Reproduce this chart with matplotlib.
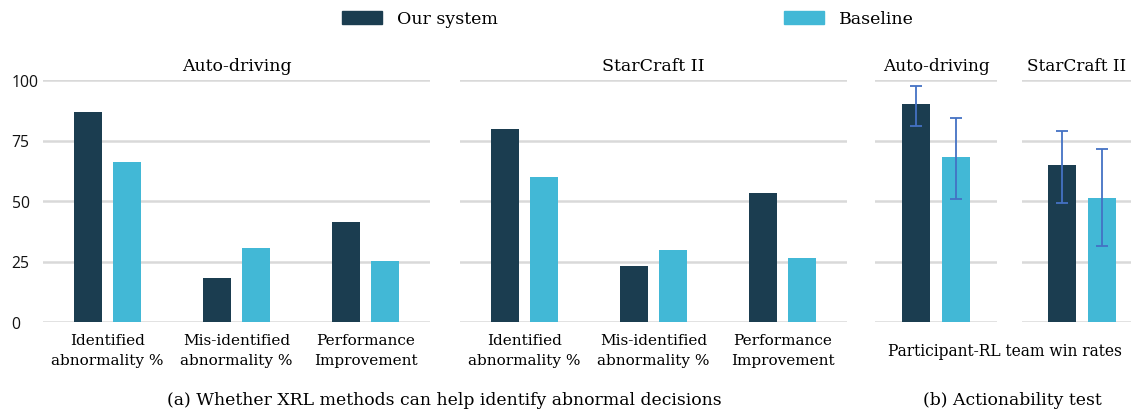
import numpy as np
import matplotlib
matplotlib.use('Agg')
import matplotlib.pyplot as plt
from matplotlib.patches import Patch

# data
categories = ['Identified\nabnormality %', 'Mis-identified\nabnormality %', 'Performance\nImprovement']
auto_ours = [86.9, 18.0, 41.4]
auto_base = [66.2, 30.4, 25.3]
sc2_ours = [79.8, 23.0, 53.2]
sc2_base = [59.8, 29.9, 26.4]

win_panels = ['Auto-driving', 'StarCraft II']
win_ours = [90.1, 65.0]
win_base = [68.1, 51.2]
win_ours_lo = [81.1, 49.2]
win_ours_hi = [97.6, 79.0]
win_base_lo = [50.8, 31.5]
win_base_hi = [84.3, 71.5]

yticks = [0, 25, 50, 75, 100]

DARK = '#1b3d50'
LIGHT = '#42b8d6'
GRID = '#d9d9d9'
ERR = '#4472c4'
SERIF = 'DejaVu Serif'
SANS = 'Open Sans'

W, H = 1131, 410
fig = plt.figure(figsize=(W / 100, H / 100), dpi=100)


def px_axes(x0, x1, y0=81, y1=323):
    return fig.add_axes([x0 / W, 1 - y1 / H, (x1 - x0) / W, (y1 - y0) / H])


def style(ax, show_y=False):
    ax.set_ylim(0, 100)
    ax.set_yticks(yticks)
    for s in ax.spines.values():
        s.set_visible(False)
    for v in yticks:
        ax.axhline(v, color=GRID, lw=1.8, zorder=0)
    ax.tick_params(axis='both', length=0)
    if show_y:
        ax.tick_params(axis='y', pad=22.5)
        for t in ax.get_yticklabels():
            t.set_ha('left')
            t.set_fontfamily(SANS)
            t.set_fontsize(11.3)
            t.set_color('#111111')
    else:
        ax.set_yticklabels([])


def group_panel(ax, title, ours, base, show_y):
    x = np.arange(len(categories))
    ax.bar(x - 0.155, ours, width=0.217, color=DARK, zorder=2)
    ax.bar(x + 0.155, base, width=0.217, color=LIGHT, zorder=2)
    ax.set_xlim(-0.5, 2.5)
    ax.set_xticks(x)
    ax.set_xticklabels(categories, fontfamily=SERIF, fontsize=11, linespacing=1.55)
    ax.tick_params(axis='x', pad=8)
    ax.set_title(title, fontfamily=SERIF, fontsize=12.5, pad=7)
    style(ax, show_y)


ax1 = px_axes(43, 430)
group_panel(ax1, 'Auto-driving', auto_ours, auto_base, True)
ax2 = px_axes(460, 847)
group_panel(ax2, 'StarCraft II', sc2_ours, sc2_base, False)

title_y = 1 - (81 - 7 * 100 / 72) / H
for i, (x0, x1, tx) in enumerate([(875, 997, 936), (1022, 1142, 1077)]):
    ax = px_axes(x0, x1)
    vals = [win_ours[i], win_base[i]]
    lo = [win_ours[i] - win_ours_lo[i], win_base[i] - win_base_lo[i]]
    hi = [win_ours_hi[i] - win_ours[i], win_base_hi[i] - win_base[i]]
    ax.bar([0, 1], vals, width=0.69, color=[DARK, LIGHT], zorder=2)
    ax.errorbar([0, 1], vals, yerr=[lo, hi], fmt='none', ecolor=ERR,
                elinewidth=1.3, capsize=4, capthick=1.3, zorder=3)
    ax.set_xlim(-1.0, 2.0)
    ax.set_xticks([])
    style(ax)
    fig.text(tx / W, title_y, win_panels[i], fontfamily=SERIF,
             fontsize=12.2, ha='center', va='baseline')

fig.text(1005 / W, 1 - 352 / H, 'Participant-RL team win rates',
         fontfamily=SERIF, fontsize=11.2, ha='center', va='center')
fig.text(444 / W, 1 - 401 / H, '(a) Whether XRL methods can help identify abnormal decisions',
         fontfamily=SERIF, fontsize=12.4, ha='center', va='center')
fig.text(1012 / W, 1 - 401 / H, '(b) Actionability test',
         fontfamily=SERIF, fontsize=12.4, ha='center', va='center')

handles = [Patch(color=DARK, label='Our system'), Patch(color=LIGHT, label='Baseline')]
fig.legend(handles=handles, loc='center', bbox_to_anchor=(628 / W, 1 - 20 / H),
           ncol=2, frameon=False, prop={'family': SERIF, 'size': 12.5},
           handlelength=2.3, handleheight=0.75, handletextpad=0.85, columnspacing=16.5)

fig.savefig('out.png', dpi=100)
